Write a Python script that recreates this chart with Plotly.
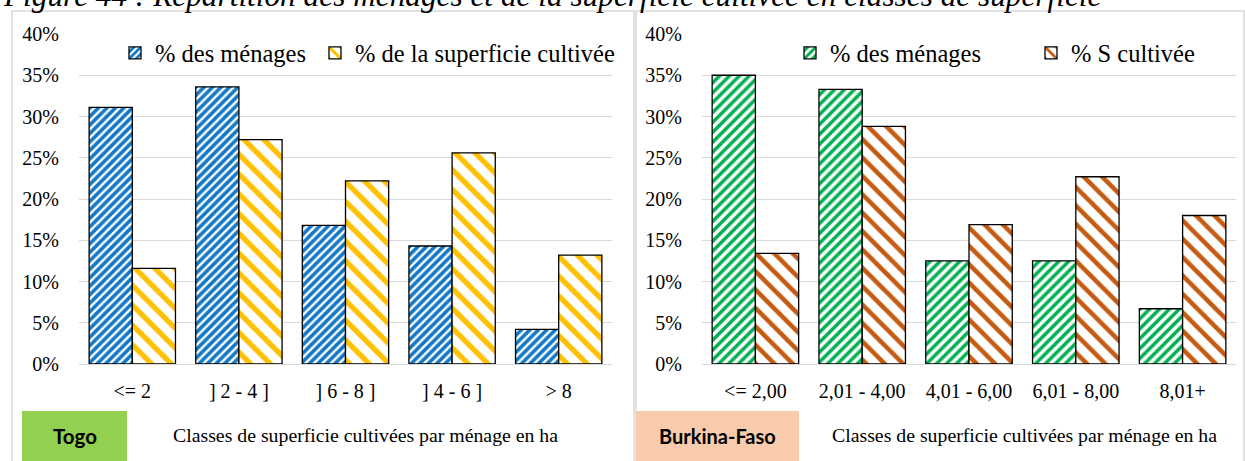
import plotly.graph_objects as go

W, H = 1245, 461

# Togo: households vs cultivated area by farm-size class
togo_classes = ["<= 2", "] 2 - 4 ]", "] 6 - 8 ]", "] 4 - 6 ]", "> 8"]
togo_menages = [31.1, 33.6, 16.8, 14.3, 4.2]
togo_superficie = [11.6, 27.2, 22.2, 25.6, 13.2]

# Burkina-Faso: same breakdown
bf_classes = ["<= 2,00", "2,01 - 4,00", "4,01 - 6,00", "6,01 - 8,00", "8,01+"]
bf_menages = [35.0, 33.3, 12.5, 12.5, 6.7]
bf_superficie = [13.4, 28.8, 16.9, 22.7, 18.0]

y_ticks = [0, 5, 10, 15, 20, 25, 30, 35, 40]
y_tick_labels = ["0%", "5%", "10%", "15%", "20%", "25%", "30%", "35%", "40%"]

SERIF = "Liberation Serif"
GRID = "#D9D9D9"


def px_x(p):
    return p / W


def px_y(p):
    return 1 - p / H


def bar(x, y, xa, ya, name, fg, shape, size, solidity, legend):
    return go.Bar(
        x=x, y=y, xaxis=xa, yaxis=ya, name=name, legend=legend,
        marker=dict(
            color="white",
            line=dict(color="black", width=1.3),
            pattern=dict(shape=shape, fgcolor=fg, bgcolor="white", fgopacity=1,
                         size=size, solidity=solidity, fillmode="overlay"),
        ),
    )


fig = go.Figure()
fig.add_trace(bar(togo_classes, togo_menages, "x", "y", "% des ménages",
                  "#1379C6", "/", 6, 0.6, "legend"))
fig.add_trace(bar(togo_classes, togo_superficie, "x", "y", "% de la superficie cultivée",
                  "#FFC000", "\\", 14, 0.38, "legend2"))
fig.add_trace(bar(bf_classes, bf_menages, "x2", "y2", "% des ménages",
                  "#00B050", "/", 7, 0.5, "legend3"))
fig.add_trace(bar(bf_classes, bf_superficie, "x2", "y2", "% S cultivée",
                  "#C55A11", "\\", 13, 0.35, "legend4"))

y_dom = [px_y(364), px_y(34)]
yaxis_common = dict(
    range=[0, 40], tickmode="array", tickvals=y_ticks, ticktext=y_tick_labels,
    showgrid=True, gridcolor=GRID, gridwidth=1.3,
    zeroline=False, showline=False, automargin=False,
    tickfont=dict(family=SERIF, size=20, color="black"),
    ticklabelstandoff=19, domain=y_dom, fixedrange=True,
)
xaxis_common = dict(
    showline=True, linecolor=GRID, linewidth=1.3, showgrid=False, automargin=False,
    tickfont=dict(family=SERIF, size=20, color="black"),
    ticklabelstandoff=9, fixedrange=True,
)


def legend_at(x_px, y_px):
    return dict(
        x=px_x(x_px), y=px_y(y_px), xanchor="left", yanchor="middle",
        orientation="h", font=dict(family=SERIF, size=24.5, color="black"),
        bgcolor="rgba(0,0,0,0)", itemwidth=30,
    )


fig.update_layout(
    width=W, height=H, autosize=False,
    margin=dict(l=0, r=0, t=0, b=0, pad=0, autoexpand=False),
    paper_bgcolor="white", plot_bgcolor="white",
    barmode="group", bargap=0.19, bargroupgap=0,
    xaxis=dict(domain=[px_x(79), px_x(612)], anchor="y", **xaxis_common),
    yaxis=dict(anchor="x", **yaxis_common),
    xaxis2=dict(domain=[px_x(702), px_x(1236)], anchor="y2", **xaxis_common),
    yaxis2=dict(anchor="x2", **yaxis_common),
    legend=legend_at(115, 53),
    legend2=legend_at(315, 53),
    legend3=legend_at(790, 53),
    legend4=legend_at(1031, 53),
    showlegend=True,
)

# Panel frames, country tags and shared axis captions
shapes = [
    dict(type="rect", xref="paper", yref="paper",
         x0=px_x(12), x1=px_x(634), y0=px_y(475), y1=px_y(11),
         line=dict(color=GRID, width=1.5), fillcolor="rgba(0,0,0,0)", layer="below"),
    dict(type="rect", xref="paper", yref="paper",
         x0=px_x(636), x1=px_x(1244), y0=px_y(475), y1=px_y(11),
         line=dict(color=GRID, width=1.5), fillcolor="rgba(0,0,0,0)", layer="below"),
    dict(type="rect", xref="paper", yref="paper",
         x0=px_x(22), x1=px_x(127), y0=px_y(465), y1=px_y(411),
         line=dict(width=0), fillcolor="#92D050"),
    dict(type="rect", xref="paper", yref="paper",
         x0=px_x(636), x1=px_x(799), y0=px_y(465), y1=px_y(411),
         line=dict(width=0), fillcolor="#F8CBAD"),
]
fig.update_layout(shapes=shapes)

caption = "Classes de superficie cultivées par ménage en ha"
annotations = [
    dict(text="Figure 44 : Répartition des ménages et de la superficie cultivée en classes de superficie",
         xref="paper", yref="paper", x=px_x(1), y=px_y(-4.5), xanchor="left", yanchor="middle",
         showarrow=False, font=dict(family=SERIF, size=31.3, style="italic", color="black")),
    dict(text="Togo", xref="paper", yref="paper", x=px_x(74.5), y=px_y(436),
         xanchor="center", yanchor="middle", showarrow=False,
         font=dict(family="Lato", size=20.5, weight="bold", color="black")),
    dict(text="Burkina-Faso", xref="paper", yref="paper", x=px_x(717), y=px_y(436),
         xanchor="center", yanchor="middle", showarrow=False,
         font=dict(family="Lato", size=20, weight="bold", color="black")),
    dict(text=caption, xref="paper", yref="paper", x=px_x(365), y=px_y(435),
         xanchor="center", yanchor="middle", showarrow=False,
         font=dict(family=SERIF, size=19.8, color="black")),
    dict(text=caption, xref="paper", yref="paper", x=px_x(1024), y=px_y(435),
         xanchor="center", yanchor="middle", showarrow=False,
         font=dict(family=SERIF, size=19.8, color="black")),
]
fig.update_layout(annotations=annotations)

fig.write_html("out.html")
